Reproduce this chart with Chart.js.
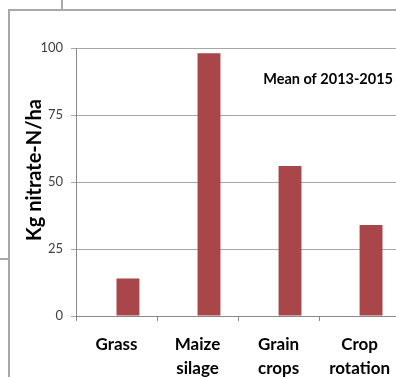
<!DOCTYPE html>
<html>
<head>
<meta charset="utf-8">
<script src="https://cdn.jsdelivr.net/npm/chart.js@4/dist/chart.umd.min.js"></script>
<style>
  html, body { margin: 0; padding: 0; background: #fff; overflow: hidden; }
  body { width: 396px; height: 377px; position: relative; }
  #wrap { position: absolute; left: 0; top: 0; width: 402px; height: 377px; }
  .rule { position: absolute; background: #a8a8a8; }
</style>
</head>
<body>
<!-- panel frame -->
<div class="rule" style="left:8px; top:9px; width:400px; height:2px;"></div>
<div class="rule" style="left:8px; top:9px; width:2px; height:380px;"></div>
<div class="rule" style="left:61px; top:0; width:2px; height:10px;"></div>
<div class="rule" style="left:0; top:258px; width:9px; height:2px;"></div>
<div id="wrap"><canvas id="c" width="402" height="377"></canvas></div>
<script>
// Nitrate leaching by land use
const categories = [['Grass'], ['Maize', 'silage'], ['Grain', 'crops'], ['Crop', 'rotation']];
const nitrateN = [14, 98, 56, 34];
const emptySeries = [null, null, null, null];
const yTicks = [0, 25, 50, 75, 100];
const yTitle = 'Kg nitrate-N/ha';
const note = 'Mean of 2013-2015';

const FONT = "Lato, 'Open Sans', sans-serif";

const textPlugin = {
  id: 'textPlugin',
  afterDraw(chart) {
    const { ctx } = chart;
    ctx.save();
    // y-axis title
    ctx.fillStyle = '#000';
    ctx.font = 'bold 20px ' + FONT;
    ctx.textAlign = 'center';
    ctx.textBaseline = 'middle';
    ctx.translate(35, 170);
    ctx.rotate(-Math.PI / 2);
    ctx.fillText(yTitle, 0, 0);
    ctx.restore();
    // note in top-right of plot
    ctx.save();
    ctx.fillStyle = '#000';
    ctx.font = 'bold 14.5px ' + FONT;
    ctx.textAlign = 'right';
    ctx.textBaseline = 'alphabetic';
    ctx.fillText(note, 393, 84);
    ctx.restore();
  }
};

new Chart(document.getElementById('c'), {
  type: 'bar',
  data: {
    labels: categories,
    datasets: [
      { data: emptySeries, backgroundColor: '#a9464a' },
      { data: nitrateN, backgroundColor: '#a9464a' }
    ]
  },
  options: {
    responsive: false,
    animation: false,
    devicePixelRatio: 1,
    layout: { padding: { left: 0, right: 0, top: 48, bottom: 0 } },
    datasets: { bar: { categoryPercentage: 0.565, barPercentage: 1.0 } },
    plugins: { legend: { display: false }, tooltip: { enabled: false } },
    scales: {
      x: {
        grid: { drawOnChartArea: false, drawTicks: true, tickLength: 5, color: '#888', offset: true },
        border: { color: '#888' },
        ticks: { color: '#000', font: { family: FONT, size: 17, weight: 'bold', lineHeight: 1.4 }, padding: 12, maxRotation: 0, autoSkip: false },
        afterFit(scale) { scale.height = 61; }
      },
      y: {
        min: 0, max: 100,
        afterBuildTicks(scale) { scale.ticks = yTicks.map(v => ({ value: v })); },
        grid: { color: '#a6a6a6', tickLength: 5, drawTicks: true },
        border: { color: '#888' },
        ticks: { color: '#404040', font: { family: FONT, size: 13 }, padding: 8 },
        afterFit(scale) { scale.width = 76; }
      }
    }
  },
  plugins: [textPlugin]
});
</script>
</body>
</html>
